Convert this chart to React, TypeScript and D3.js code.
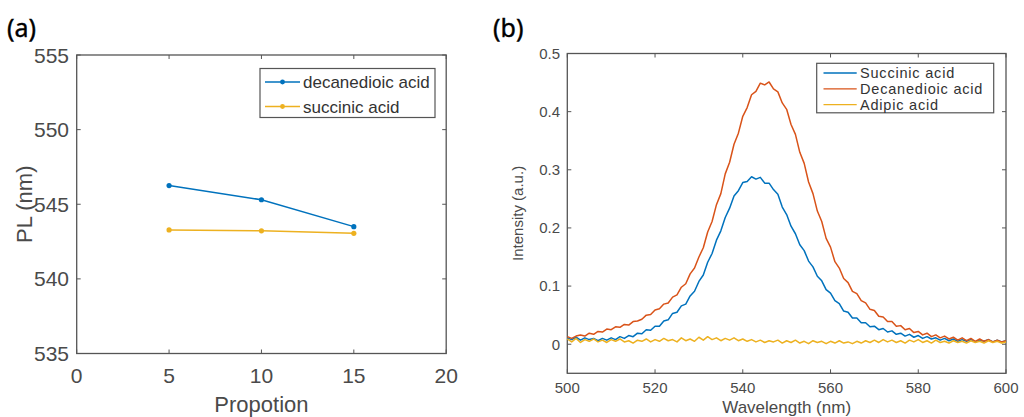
import React, { useRef, useEffect } from 'react';
import * as d3 from 'd3';

// panel (a): PL peak position vs proportion
const proportion = [5, 10, 15];
const decanedioicPL = [546.25, 545.3, 543.5];
const succinicPL = [543.28, 543.22, 543.05];
const plTicks = [535, 540, 545, 550, 555];
const propTicks = [0, 5, 10, 15, 20];

// panel (b): PL spectra, one value per nm from 500 to 600
const wavelength = d3.range(500, 601);
const succinicSpec = [
  0.011, 0.008, 0.012, 0.007, 0.011, 0.008, 0.010, 0.006, 0.010, 0.007,
  0.011, 0.008, 0.013, 0.010, 0.015, 0.013, 0.019, 0.018, 0.025, 0.024,
  0.031, 0.031, 0.040, 0.042, 0.053, 0.055, 0.066, 0.069, 0.083, 0.091,
  0.108, 0.119, 0.141, 0.156, 0.179, 0.195, 0.218, 0.234, 0.255, 0.264,
  0.278, 0.280, 0.288, 0.284, 0.287, 0.277, 0.277, 0.266, 0.258, 0.236,
  0.223, 0.203, 0.190, 0.171, 0.161, 0.143, 0.133, 0.117, 0.109, 0.094,
  0.088, 0.075, 0.070, 0.057, 0.055, 0.045, 0.045, 0.037, 0.037, 0.030,
  0.031, 0.025, 0.027, 0.021, 0.023, 0.017, 0.019, 0.014, 0.017, 0.012,
  0.015, 0.010, 0.013, 0.009, 0.011, 0.007, 0.010, 0.006, 0.009, 0.005,
  0.008, 0.005, 0.008, 0.004, 0.007, 0.005, 0.008, 0.004, 0.007, 0.004, 0.006,
];
const decanedioicSpec = [
  0.013, 0.010, 0.014, 0.016, 0.014, 0.019, 0.017, 0.022, 0.021, 0.026,
  0.025, 0.030, 0.029, 0.034, 0.033, 0.039, 0.040, 0.043, 0.050, 0.051,
  0.059, 0.061, 0.069, 0.071, 0.081, 0.085, 0.098, 0.104, 0.121, 0.131,
  0.150, 0.166, 0.193, 0.211, 0.240, 0.259, 0.293, 0.313, 0.344, 0.363,
  0.392, 0.407, 0.429, 0.435, 0.449, 0.446, 0.451, 0.439, 0.434, 0.415,
  0.404, 0.378, 0.361, 0.330, 0.311, 0.279, 0.259, 0.229, 0.211, 0.182,
  0.167, 0.142, 0.131, 0.113, 0.106, 0.091, 0.087, 0.075, 0.071, 0.060,
  0.058, 0.048, 0.047, 0.039, 0.039, 0.031, 0.032, 0.025, 0.027, 0.020,
  0.022, 0.016, 0.019, 0.013, 0.016, 0.011, 0.014, 0.009, 0.012, 0.007,
  0.011, 0.006, 0.010, 0.005, 0.009, 0.005, 0.008, 0.004, 0.007, 0.004, 0.006,
];
const adipicSpec = [
  0.009, 0.004, 0.010, 0.003, 0.008, 0.005, 0.009, 0.004, 0.007, 0.003,
  0.008, 0.005, 0.009, 0.004, 0.006, 0.002, 0.007, 0.005, 0.009, 0.004,
  0.008, 0.005, 0.010, 0.006, 0.008, 0.004, 0.011, 0.006, 0.009, 0.005,
  0.012, 0.007, 0.013, 0.008, 0.011, 0.006, 0.010, 0.007, 0.011, 0.006,
  0.009, 0.005, 0.008, 0.004, 0.007, 0.003, 0.006, 0.004, 0.007, 0.002,
  0.006, 0.003, 0.007, 0.002, 0.005, 0.001, 0.006, 0.003, 0.005, 0.001,
  0.005, 0.002, 0.006, 0.002, 0.004, 0.001, 0.005, 0.002, 0.006, 0.003,
  0.007, 0.003, 0.008, 0.004, 0.007, 0.003, 0.006, 0.002, 0.007, 0.004,
  0.008, 0.003, 0.006, 0.002, 0.007, 0.003, 0.005, 0.002, 0.006, 0.003,
  0.005, 0.002, 0.006, 0.003, 0.005, 0.002, 0.006, 0.003, 0.005, 0.002, 0.004,
];
const intensityTicks = [0, 0.1, 0.2, 0.3, 0.4, 0.5];
const wlTicks = [500, 520, 540, 560, 580, 600];

const BLUE = '#0072BD';
const ORANGE = '#D95319';
const YELLOW = '#EDB120';
const AXIS = '#555';
const TEXT = '#4a4a4a';
const FONT = '"Liberation Sans", Arial, sans-serif';

const width = 1024;
const height = 417;

// draws a MATLAB-like box with inward ticks on all four sides
function drawBox(g, x, y, xTicks, yTicks) {
  const [x0, x1] = x.range();
  const [y0, y1] = y.range();
  g.append('rect')
    .attr('x', x0).attr('y', y1)
    .attr('width', x1 - x0).attr('height', y0 - y1)
    .attr('fill', 'none').attr('stroke', AXIS).attr('stroke-width', 1.3);
  const tl = 4;
  xTicks.forEach(t => {
    g.append('line').attr('x1', x(t)).attr('x2', x(t)).attr('y1', y0).attr('y2', y0 - tl)
      .attr('stroke', AXIS);
    g.append('line').attr('x1', x(t)).attr('x2', x(t)).attr('y1', y1).attr('y2', y1 + tl)
      .attr('stroke', AXIS);
  });
  yTicks.forEach(t => {
    g.append('line').attr('x1', x0).attr('x2', x0 + tl).attr('y1', y(t)).attr('y2', y(t))
      .attr('stroke', AXIS);
    g.append('line').attr('x1', x1).attr('x2', x1 - tl).attr('y1', y(t)).attr('y2', y(t))
      .attr('stroke', AXIS);
  });
}

const App = () => {
  const svgRef = useRef(null);

  useEffect(() => {
    const svg = d3.select(svgRef.current);
    svg.selectAll('*').remove();
    svg.append('rect').attr('width', width).attr('height', height).attr('fill', '#fff');

    // ---------- panel (a) ----------
    const ga = svg.append('g');
    const xa = d3.scaleLinear().domain([0, 20]).range([76.7, 446.2]);
    const ya = d3.scaleLinear().domain([535, 555]).range([353.5, 55]);

    ga.append('text').text('(a)').attr('x', 7).attr('y', 36.5)
      .attr('font-family', '"Noto Sans", sans-serif').attr('font-size', 25)
      .attr('fill', '#000').attr('stroke', '#000').attr('stroke-width', 0.4);

    drawBox(ga, xa, ya, propTicks, plTicks);

    ga.selectAll('.ytick').data(plTicks).enter().append('text')
      .attr('x', 69).attr('y', d => ya(d)).attr('dy', '0.36em')
      .attr('text-anchor', 'end').attr('font-family', FONT).attr('font-size', 21)
      .attr('fill', TEXT).text(d => d);
    ga.selectAll('.xtick').data(propTicks).enter().append('text')
      .attr('x', d => xa(d)).attr('y', 383)
      .attr('text-anchor', 'middle').attr('font-family', FONT).attr('font-size', 21)
      .attr('fill', TEXT).text(d => d);

    ga.append('text').text('Propotion').attr('x', xa(10)).attr('y', 412)
      .attr('text-anchor', 'middle').attr('font-family', FONT).attr('font-size', 22).attr('fill', TEXT);
    ga.append('text').text('PL (nm)')
      .attr('transform', `translate(32,${ya(545)}) rotate(-90)`)
      .attr('text-anchor', 'middle').attr('font-family', FONT).attr('font-size', 22).attr('fill', TEXT);

    const lineA = d3.line().x(d => xa(d[0])).y(d => ya(d[1]));
    const seriesA = [
      { name: 'decanedioic acid', values: decanedioicPL, color: BLUE },
      { name: 'succinic acid', values: succinicPL, color: YELLOW },
    ];
    seriesA.forEach(s => {
      const pts = proportion.map((p, i) => [p, s.values[i]]);
      ga.append('path').attr('d', lineA(pts)).attr('fill', 'none')
        .attr('stroke', s.color).attr('stroke-width', 1.5);
      ga.selectAll(null).data(pts).enter().append('circle')
        .attr('cx', d => xa(d[0])).attr('cy', d => ya(d[1])).attr('r', 2.6)
        .attr('fill', s.color);
    });

    const lega = ga.append('g');
    lega.append('rect').attr('x', 260).attr('y', 68.5).attr('width', 175).attr('height', 49)
      .attr('fill', '#fff').attr('stroke', AXIS).attr('stroke-width', 1.2);
    seriesA.forEach((s, i) => {
      const yy = 82 + i * 24.5;
      lega.append('line').attr('x1', 265).attr('x2', 300).attr('y1', yy).attr('y2', yy)
        .attr('stroke', s.color).attr('stroke-width', 1.5);
      lega.append('circle').attr('cx', 282.5).attr('cy', yy).attr('r', 2.4).attr('fill', s.color);
      lega.append('text').text(s.name).attr('x', 303).attr('y', yy).attr('dy', '0.36em')
        .attr('font-family', FONT).attr('font-size', 17).attr('fill', '#333');
    });

    // ---------- panel (b) ----------
    const gb = svg.append('g');
    const xb = d3.scaleLinear().domain([500, 600]).range([567.3, 1006]);
    const yb = d3.scaleLinear().domain([-0.05, 0.5]).range([373.3, 53.5]);

    gb.append('text').text('(b)').attr('x', 493).attr('y', 37)
      .attr('font-family', '"Noto Sans", sans-serif').attr('font-size', 25)
      .attr('fill', '#000').attr('stroke', '#000').attr('stroke-width', 0.4);

    drawBox(gb, xb, yb, wlTicks, intensityTicks);

    gb.selectAll('.ytick').data(intensityTicks).enter().append('text')
      .attr('x', 560).attr('y', d => yb(d)).attr('dy', '0.36em')
      .attr('text-anchor', 'end').attr('font-family', FONT).attr('font-size', 15)
      .attr('fill', TEXT).text(d => d);
    gb.selectAll('.xtick').data(wlTicks).enter().append('text')
      .attr('x', d => xb(d)).attr('y', 393)
      .attr('text-anchor', 'middle').attr('font-family', FONT).attr('font-size', 15)
      .attr('fill', TEXT).text(d => d);

    gb.append('text').text('Wavelength (nm)').attr('x', xb(550)).attr('y', 412.5)
      .attr('text-anchor', 'middle').attr('font-family', FONT).attr('font-size', 17).attr('fill', TEXT);
    gb.append('text').text('Intensity (a.u.)')
      .attr('transform', `translate(523,${(yb.range()[0] + yb.range()[1]) / 2}) rotate(-90)`)
      .attr('text-anchor', 'middle').attr('font-family', FONT).attr('font-size', 15).attr('fill', TEXT);

    const seriesB = [
      { name: 'Succinic acid', values: succinicSpec, color: BLUE },
      { name: 'Decanedioic acid', values: decanedioicSpec, color: ORANGE },
      { name: 'Adipic acid', values: adipicSpec, color: YELLOW },
    ];
    const lineB = d3.line().x((d, i) => xb(wavelength[i])).y(d => yb(d));
    seriesB.forEach(s => {
      gb.append('path').attr('d', lineB(s.values)).attr('fill', 'none')
        .attr('stroke', s.color).attr('stroke-width', 1.5).attr('stroke-linejoin', 'round');
    });

    const legb = gb.append('g');
    legb.append('rect').attr('x', 816.7).attr('y', 63.3).attr('width', 177).attr('height', 49.5)
      .attr('fill', '#fff').attr('stroke', AXIS).attr('stroke-width', 1.2);
    seriesB.forEach((s, i) => {
      const yy = 73 + i * 15.8;
      legb.append('line').attr('x1', 823.5).attr('x2', 856.7).attr('y1', yy).attr('y2', yy)
        .attr('stroke', s.color).attr('stroke-width', 1.3);
      legb.append('text').text(s.name).attr('x', 860).attr('y', yy).attr('dy', '0.36em')
        .attr('font-family', FONT).attr('font-size', 14.5).attr('letter-spacing', 0.8)
        .attr('fill', '#333');
    });
  }, []);

  return (
    <svg ref={svgRef} width={width} height={height}
      style={{ position: 'absolute', left: 0, top: 0, display: 'block' }}></svg>
  );
};

export default App;
